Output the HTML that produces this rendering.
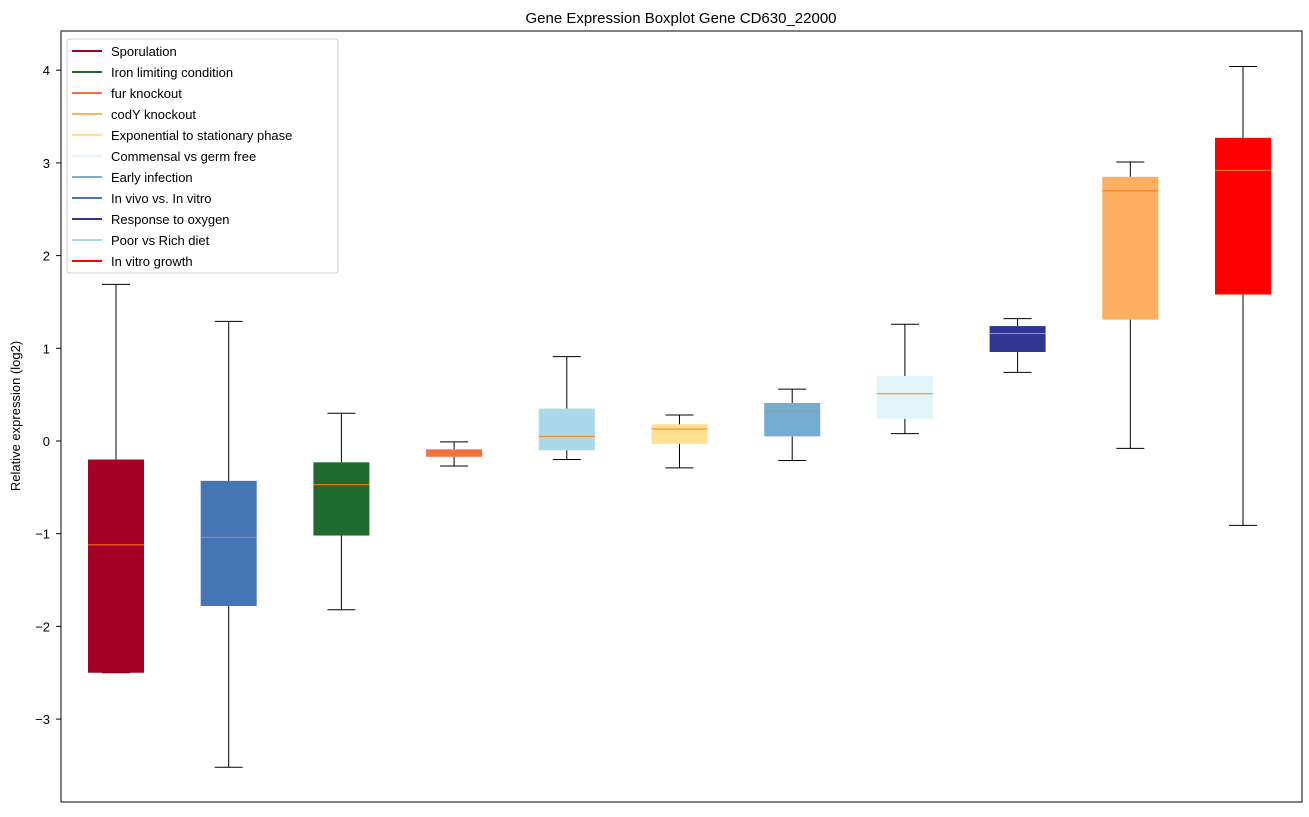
<!DOCTYPE html>
<html><head><meta charset="utf-8"><style>
body{margin:0;background:#fff;}
svg{font-family:"Liberation Sans","DejaVu Sans",sans-serif;}
</style></head><body>
<svg id="chart" width="1309" height="812">
<rect x="0" y="0" width="1309" height="812" fill="#fff"/>
<text x="681" y="23" font-size="15" text-anchor="middle">Gene Expression Boxplot Gene CD630_22000</text>
<g id="boxes"></g>
<rect x="61" y="31" width="1241" height="771" fill="none" stroke="#000" stroke-width="1"/>
<g id="yaxis"></g>
<text transform="translate(20,416) rotate(-90)" font-size="13" text-anchor="middle">Relative expression (log2)</text>
<g id="legend"></g>
</svg>
<script>
const categories=["Sporulation","In vivo vs. In vitro","Iron limiting condition","fur knockout","Poor vs Rich diet","Exponential to stationary phase","Early infection","Commensal vs germ free","Response to oxygen","codY knockout","In vitro growth"];
const colors=["#a50026","#4575b4","#1f6b2d","#f46d43","#abd9e9","#fee090","#74add1","#e0f3f8","#313695","#fdae61","#ff0000"];
const whiskerHigh=[1.69,1.29,0.30,-0.01,0.91,0.28,0.56,1.26,1.32,3.01,4.04];
const q3=[-0.20,-0.43,-0.23,-0.09,0.35,0.18,0.41,0.70,1.24,2.85,3.27];
const medians=[-1.12,-1.04,-0.47,-0.15,0.05,0.13,0.32,0.51,1.16,2.70,2.92];
const q1=[-2.50,-1.78,-1.02,-0.17,-0.10,-0.03,0.05,0.24,0.96,1.31,1.58];
const whiskerLow=[-2.50,-3.52,-1.82,-0.27,-0.20,-0.29,-0.21,0.08,0.74,-0.08,-0.91];
const yTicks=[-3,-2,-1,0,1,2,3,4];
const legendLabels=["Sporulation","Iron limiting condition","fur knockout","codY knockout","Exponential to stationary phase","Commensal vs germ free","Early infection","In vivo vs. In vitro","Response to oxygen","Poor vs Rich diet","In vitro growth"];
const legendColors=["#a50026","#1f6b2d","#f46d43","#fdae61","#fee090","#e0f3f8","#74add1","#4575b4","#313695","#abd9e9","#ff0000"];

const NS="http://www.w3.org/2000/svg";
const y=v=>441-v*92.7;
const x=i=>116+i*112.7;
function mk(tag,attrs,parent){const e=document.createElementNS(NS,tag);for(const k in attrs)e.setAttribute(k,attrs[k]);parent.appendChild(e);return e;}
const gb=document.getElementById('boxes');
categories.forEach((c,i)=>{
  const g=mk('g',{},gb);
  
  
  const cx=x(i),hw=28,cw=14;
  mk('line',{x1:cx,x2:cx,y1:y(whiskerHigh[i]),y2:y(q3[i]),stroke:'#000'},g);
  mk('line',{x1:cx,x2:cx,y1:y(q1[i]),y2:y(whiskerLow[i]),stroke:'#000'},g);
  mk('line',{x1:cx-cw,x2:cx+cw,y1:y(whiskerHigh[i]),y2:y(whiskerHigh[i]),stroke:'#000'},g);
  mk('line',{x1:cx-cw,x2:cx+cw,y1:y(whiskerLow[i]),y2:y(whiskerLow[i]),stroke:'#000'},g);
  mk('rect',{x:cx-hw,y:y(q3[i]),width:2*hw,height:Math.max(1,y(q1[i])-y(q3[i])),fill:colors[i]},g);
  mk('line',{x1:cx-hw,x2:cx+hw,y1:y(medians[i]),y2:y(medians[i]),stroke:'#ff7f0e','stroke-width':1},g);
});
const ga=document.getElementById('yaxis');
yTicks.forEach(t=>{
  const g=mk('g',{},ga);
  
  
  mk('line',{x1:56,x2:61,y1:y(t),y2:y(t),stroke:'#000'},g);
  const tx=mk('text',{x:50,y:y(t)+5,'font-size':13,'text-anchor':'end'},g);
  tx.textContent=(t<0?'\u2212'+(-t):t);
});
const gl=document.getElementById('legend');
const lb=mk('rect',{x:67,y:39,width:271,height:234,rx:3,fill:'#fff','fill-opacity':0.8,stroke:'#ccc'},gl);


legendLabels.forEach((l,i)=>{
  const g=mk('g',{},gl);
  
  
  const yy=51+i*21;
  mk('line',{x1:72,x2:102,y1:yy,y2:yy,stroke:legendColors[i],'stroke-width':2},g);
  const t=mk('text',{x:111,y:yy+5,'font-size':13},g);
  t.textContent=l;
});
</script>
</body></html>
